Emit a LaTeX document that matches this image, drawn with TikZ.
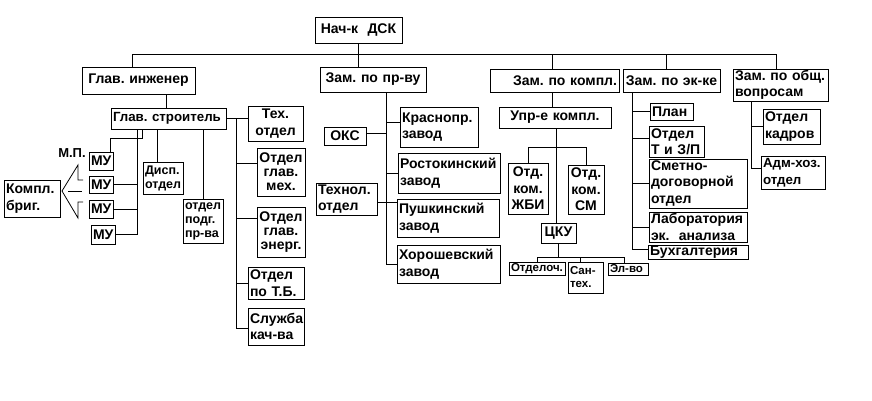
\documentclass[tikz,border=0pt]{standalone}
\usepackage{fontspec}
\setmainfont{Liberation Sans}
\frenchspacing
\newcommand\mkbox[7][align=center]{%
  \pgfmathsetmacro\mkbw{#5-#3-4}%
  \pgfmathsetmacro\mkbh{#6-#4}%
  \pgfmathsetmacro\mkbcx{(#3+#5)/2}%
  \pgfmathsetmacro\mkbcy{(#4+#6)/2}%
  \node[bx,#1,text width=\mkbw pt,minimum height=\mkbh pt] (#2) at (\mkbcx,\mkbcy) {#7};}
\begin{document}
\begin{tikzpicture}[x=1pt,y=-1pt,
  bx/.style={draw=black,line width=0.8pt,inner xsep=2pt,inner ysep=0pt,
    font=\fontsize{14}{16.5}\selectfont\bfseries},
  tight/.style={font=\fontsize{14}{14}\selectfont\bfseries},
  small/.style={font=\fontsize{11.5}{13}\selectfont\bfseries},
  smallish/.style={font=\fontsize{12.5}{14}\selectfont\bfseries},
  narrow/.style={font=\fontsize{13.3}{16.5}\selectfont\bfseries},
  ln/.style={line width=0.8pt,black}]
\useasboundingbox (0,0) rectangle (872,400);
% top
\mkbox{nach}{315}{17}{402}{43}{\mbox{Нач-к}~~ДСК}
\mkbox{gi}{82}{67}{195}{94}{Глав.~инженер}
\mkbox{zpr}{320}{67}{426}{92}{Зам.~по~\mbox{пр-ву}}
\mkbox[align=right]{zko}{490}{69}{619}{92}{Зам.~по~компл.}
\mkbox{zek}{623}{69}{720}{92}{Зам.~по~\mbox{эк-ке}}
\mkbox[align=left]{zob}{733}{69}{828}{101}{Зам.~по~общ.\\вопросам}
% chief builder branch
\mkbox[narrow]{gs}{111}{108}{226}{129}{Глав.~строитель}
\mkbox[align=center]{tex}{248}{106}{303}{141}{Тех.\\отдел}
\mkbox[align=center,tight]{mex}{257}{148}{305}{196}{Отдел\\глав.\\мех.}
\mkbox[align=center,tight]{energ}{257}{207}{305}{257}{Отдел\\глав.\\энерг.}
\mkbox[align=left]{tb}{248}{267}{304}{299}{Отдел\\по~Т.Б.}
\mkbox[align=left]{sk}{248}{308}{304}{345}{Служба\\\mbox{кач-ва}}
\mkbox{mu1}{89}{152}{113}{170}{МУ}
\mkbox{mu2}{89}{176}{113}{193}{МУ}
\mkbox{mu3}{89}{200}{113}{218}{МУ}
\mkbox{mu4}{91}{225}{115}{244}{МУ}
\mkbox[align=left,smallish]{disp}{143}{162}{183}{194}{Дисп.\\отдел}
\mkbox[align=left,smallish]{podg}{183}{199}{223}{243}{отдел\\подг.\\\mbox{пр-ва}}
\mkbox[align=left]{kbrig}{4}{180}{60}{217}{Компл.\\бриг.}
\node[font=\fontsize{13}{14}\selectfont\bfseries,inner sep=0pt] (mp) at (72,153) {М.П.};
% production branch
\mkbox{oks}{324}{127}{366}{145}{ОКС}
\mkbox[align=left]{kras}{400}{107}{478}{147}{Краснопр.\\завод}
\mkbox[align=left]{rost}{398}{153}{500}{193}{Ростокинский\\завод}
\mkbox[align=left]{tehn}{316}{183}{377}{215}{Технол.\\отдел}
\mkbox[align=left]{push}{397}{199}{499}{237}{Пушкинский\\завод}
\mkbox[align=left]{hor}{397}{245}{500}{283}{Хорошевский\\завод}
% completion branch
\mkbox{upr}{499}{107}{611}{128}{\mbox{Упр-е}~компл.}
\mkbox[align=center]{zhbi}{508}{163}{548}{214}{Отд.\\ком.\\ЖБИ}
\mkbox[align=center]{sm}{568}{165}{604}{214}{Отд.\\ком.\\СМ}
\mkbox{cku}{541}{223}{576}{243}{ЦКУ}
\mkbox[small]{otd}{509}{262}{565}{275}{Отделоч.}
\mkbox[small]{san}{568}{262}{603}{293}{\mbox{Сан-}\\тех.}
\mkbox[small]{el}{608}{263}{648}{275}{\mbox{Эл-во}}
% economics branch
\mkbox[align=left]{plan}{650}{103}{693}{120}{План}
\mkbox[align=left]{tzp}{649}{126}{704}{157}{Отдел\\Т~и~З/П}
\mkbox[align=left]{smet}{649}{159}{747}{208}{\mbox{Сметно-}\\договорной\\отдел}
\mkbox[align=left]{lab}{649}{212}{747}{242}{Лаборатория\\эк.~~анализа}
\mkbox[align=left]{buh}{648}{245}{748}{259}{Бухгалтерия}
% general branch
\mkbox[align=left]{kadr}{763}{109}{820}{144}{Отдел\\кадров}
\mkbox[align=left,narrow]{adm}{761}{156}{825}{189}{\mbox{Адм-хоз.}\\отдел}
% ---------- connectors ----------
\coordinate (busL) at (132,54);
\coordinate (busR) at (776,54);
\coordinate (b2) at (358,54);
\coordinate (b3) at (552,54);
\coordinate (b4) at (666,54);
\draw[ln] (busL) -- (busR);
\draw[ln] (b2 |- nach.south) -- (b2 |- zpr.north);
\draw[ln] (busL) -- (busL |- gi.north);
\draw[ln] (b3) -- (b3 |- zko.north);
\draw[ln] (b4) -- (b4 |- zek.north);
\draw[ln] (busR) -- (busR |- zob.north);
% chief engineer -> chief builder
\coordinate (g1) at (166,100);
\draw[ln] (g1 |- gi.south) -- (g1 |- gs.north);
% chief builder -> right column
\coordinate (vb) at (236,118);
\draw[ln] (gs.east) -- (gs.east -| tex.west);
\draw[ln] (vb) -- ([yshift=-2pt]vb |- sk.west) -- ([yshift=-2pt]sk.west);
\draw[ln] ([yshift=9pt]vb |- mex.west) -- ([yshift=9pt]mex.west);
\draw[ln] ([yshift=14pt]vb |- energ.west) -- ([yshift=14pt]energ.west);
\draw[ln] (vb |- tb.west) -- (tb.west);
% chief builder -> MU
\coordinate (m1) at (142,138);
\draw[ln] (m1 |- gs.south) -- (m1) -| ([xshift=9pt]mu1.north);
\coordinate (m2) at (137,140);
\draw[ln] (m2 |- gs.south) -- (m2 |- mu4.east) -- (mu4.east);
\draw[ln] (mu2.east) -- (m2 |- mu2.east);
\draw[ln] (mu3.east) -- (m2 |- mu3.east);
\coordinate (m3) at (157,140);
\draw[ln] (m3 |- gs.south) -- (m3 |- disp.north);
\draw[ln] (podg.north |- gs.south) -- (podg.north);
% open arrow towards the brigades
\draw[ln,line join=miter] (83,180) -- (78,180) -- (78,165) -- (62,191) -- (78,218) -- (78,202) -- (83,202);
\draw[ln] (68,191) -- (82,191);
% production deputy
\coordinate (v2) at (386,100);
\draw[ln] (v2 |- zpr.south) -- (v2 |- hor.west) -- (hor.west);
\draw[ln] ([yshift=5pt]v2 |- kras.west) -- ([yshift=5pt]kras.west);
\draw[ln] ([yshift=3pt]oks.east) -- ([yshift=3pt]v2 |- oks.east);
\draw[ln] (v2 |- rost.west) -- (rost.west);
\draw[ln] ([yshift=-3pt]tehn.east) -- ([yshift=-3pt]tehn.east -| push.west);
% completion deputy
\coordinate (v3) at (556,147);
\draw[ln] (b3 |- zko.south) -- (b3 |- upr.north);
\draw[ln] (v3 |- upr.south) -- (v3 |- cku.north);
\draw[ln] (zhbi.north) -- (zhbi.north |- v3) -- (sm.north |- v3) -- (sm.north);
\coordinate (br4) at (558,257);
\draw[ln] (cku.south) -- (cku.south |- br4);
\draw[ln] (otd.north) -- (otd.north |- br4) -- ([xshift=-4pt]el.north |- br4) -- ([xshift=-4pt]el.north);
\draw[ln] ([xshift=-5pt]san.north) -- ([xshift=-5pt]san.north |- br4);
% economics deputy
\coordinate (v4) at (632,100);
\draw[ln] (v4 |- zek.south) -- ([yshift=3pt]v4 |- buh.west) -- ([yshift=3pt]buh.west);
\draw[ln] (v4 |- plan.west) -- (plan.west);
\draw[ln] ([yshift=3pt]v4 |- tzp.west) -- ([yshift=3pt]tzp.west);
\draw[ln] (v4 |- smet.west) -- (smet.west);
\draw[ln] (v4 |- lab.west) -- (lab.west);
% general deputy
\coordinate (v5) at (751,110);
\draw[ln] (v5 |- zob.south) -- ([yshift=4pt]v5 |- adm.west) -- ([yshift=4pt]adm.west);
\draw[ln] (v5 |- kadr.west) -- (kadr.west);
\end{tikzpicture}
\end{document}
